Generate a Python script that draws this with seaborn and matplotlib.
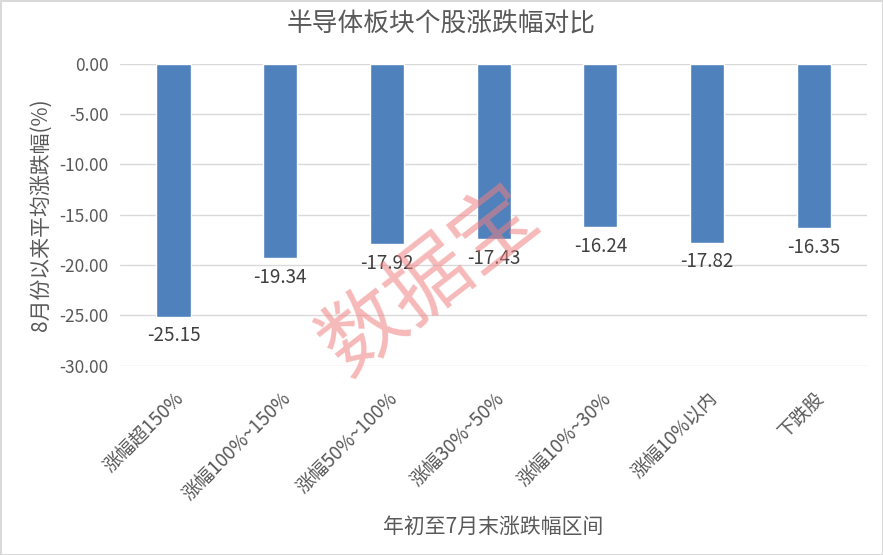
import matplotlib
matplotlib.use('Agg')
import matplotlib.pyplot as plt
import seaborn as sns
import pandas as pd

# 数据
categories = ['涨幅超150%', '涨幅100%~150%', '涨幅50%~100%', '涨幅30%~50%',
              '涨幅10%~30%', '涨幅10%以内', '下跌股']
values = [-25.15, -19.34, -17.92, -17.43, -16.24, -17.82, -16.35]
yticks = [0, -5, -10, -15, -20, -25, -30]

df = pd.DataFrame({'区间': categories, '涨跌幅': values})

sns.set_style('white')
plt.rcParams['font.family'] = ['Noto Sans CJK SC', 'DejaVu Sans']
txt = '#595959'

fig = plt.figure(figsize=(8.83, 5.55), dpi=100)
fig.patch.set_edgecolor('#D9D9D9')
fig.patch.set_linewidth(2)
ax = fig.add_axes([0.136, 0.341, 0.846, 0.544])

sns.barplot(data=df, x='区间', y='涨跌幅', color='#4F81BD', width=0.32,
            saturation=1, ax=ax, zorder=3)

ax.set_ylim(-30, 0)
ax.set_xlim(-0.5, len(categories) - 0.5)
ax.set_yticks(yticks)
ax.set_yticklabels([f'{v:.2f}' for v in yticks], fontsize=12.5, color=txt)
ax.yaxis.grid(True, color='#D9D9D9', linewidth=1)
ax.set_axisbelow(True)
for s in ax.spines.values():
    s.set_visible(False)
ax.tick_params(axis='y', length=0, pad=8)
ax.tick_params(axis='x', length=0, pad=16)
ax.set_xticks(range(len(categories)))
ax.set_xticklabels(categories, rotation=45, ha='right', rotation_mode='anchor',
                   fontsize=13.5, color=txt)
for lbl in ax.get_xticklabels():
    lbl.set_x(lbl.get_position()[0])

for i, v in enumerate(values):
    ax.annotate(f'{v:.2f}', (i, v), xytext=(0, -6), textcoords='offset points',
                ha='center', va='top', fontsize=13.5, color='#404040')

ax.set_ylabel('8月份以来平均涨跌幅(%)', fontsize=15, color=txt, labelpad=6)
ax.set_xlabel('年初至7月末涨跌幅区间', fontsize=15, color=txt, labelpad=8)
fig.text(0.5, 0.955, '半导体板块个股涨跌幅对比', ha='center', va='center',
         fontsize=18.5, color=txt)

# 水印
fig.text(0.487, 0.495, '数据宝', ha='center', va='center', fontsize=60,
         color='#F08080', alpha=0.55, rotation=38)

plt.savefig('out.png', dpi=100)
